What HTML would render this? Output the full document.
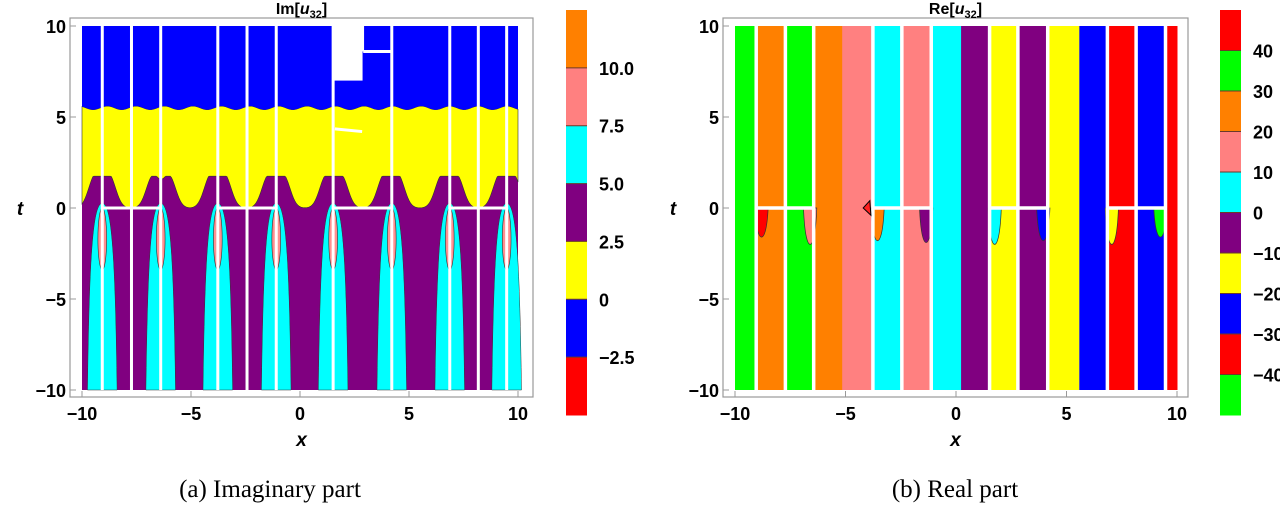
<!DOCTYPE html>
<html><head><meta charset="utf-8"><style>
body{margin:0;background:#fff;width:1280px;height:504px;overflow:hidden}
svg text{font-family:"Liberation Sans",sans-serif;font-weight:bold}
</style></head><body>
<svg id="figsvg" width="1280" height="504" viewBox="0 0 1280 504" xmlns="http://www.w3.org/2000/svg"></svg>
<script>
// ---- data ----
var imLines = [-9.07,-7.73,-6.39,-3.77,-2.43,-1.09,1.52,4.21,6.87,8.18,9.48];
var imArches = [-9.07,-6.39,-3.77,-1.09,1.52,4.21,6.87,9.48];
var imPeaks = [-9.4,-8.75,-6.75,-6.0,-4.1,-3.45,-1.45,-0.75,1.2,1.9,3.85,4.5,6.5,7.2,9.15,9.8];
var imBlueLevel = 5.5;
var imBarLabels = ["10.0","7.5","5.0","2.5","0","−2.5"];
var imBarColors = ["#ff8000","#ff8080","#00ffff","#800080","#ffff00","#0000ff","#ff0000"];
var reStripEdges = [-10,-9.04,-7.72,-6.44,-5.15,-3.76,-2.45,-1.12,0.23,1.52,2.8,4.15,5.58,6.85,8.15,9.48,10];
var reStripColors = ["#00ff00","#ff8000","#00ff00","#ff8000","#ff8080","#00ffff","#ff8080","#00ffff","#800080","#ffff00","#800080","#ffff00","#0000ff","#ff0000","#0000ff","#ff0000"];
var reLines = [-9.04,-7.72,-6.44,-3.76,-2.45,-1.12,1.52,2.8,4.15,6.85,8.15,9.48];
var reBars = [[-9.04,-6.44],[-3.76,-1.12],[1.52,4.15],[6.85,9.48]];
var reLobeX = [-8.8,-6.6,-3.55,-1.35,1.75,3.95,7.05,9.25];
var reLobeDepth = [-1.6,-2.0,-1.8,-1.9,-2.0,-1.8,-2.0,-1.6];
var reLobeColors = ["#ff0000","#ff8080","#ff8000","#800080","#00ffff","#0000ff","#ffff00","#00ff00"];
var reBarLabels = ["40","30","20","10","0","−10","−20","−30","−40"];
var reBarColors = ["#ff0000","#00ff00","#ff8000","#ff8080","#00ffff","#800080","#ffff00","#0000ff","#ff0000","#00ff00"];
var xTickVals = [-10,-5,0,5,10];
var tTickVals = [10,5,0,-5,-10];

(function(){
var SV=document.getElementById('figsvg');
var NS='http://www.w3.org/2000/svg';
function el(tag,attrs,parent,txt){var e=document.createElementNS(NS,tag);for(var k in attrs)e.setAttribute(k,attrs[k]);if(txt!==undefined)e.textContent=txt;(parent||SV).appendChild(e);return e;}
function fmt(v){return v<0?'−'+(-v):String(v);}

function panel(x0,x1,name){
  var g=el('g',{});
  
  
  return {X:function(v){return x0+(v+10)/20*(x1-x0);},T:function(v){return 208-v*18.2;},g:g};
}
function axes(p,fl,fr,title){
  var X=p.X,T=p.T,g=p.g;
  var fb=el('rect',{x:fl,y:18,width:fr-fl,height:379,fill:'none',stroke:'#999','stroke-width':1.2},g);
  
  xTickVals.forEach(function(v){
    el('line',{x1:X(v),x2:X(v),y1:397,y2:391,stroke:'#999'},g);
    var t=el('text',{x:X(v),y:420,'font-size':18,'text-anchor':'middle'},g,fmt(v));
    
  });
  tTickVals.forEach(function(v){
    el('line',{x1:fl,x2:fl+6,y1:T(v),y2:T(v),stroke:'#999'},g);
    var t=el('text',{x:fl-4,y:T(v)+7,'font-size':18,'text-anchor':'end'},g,fmt(v));
    
  });
  var xl=el('text',{x:(fl+fr)/2,y:446,'font-size':19,'font-style':'italic','text-anchor':'middle'},g,'x');
  
  var tl=el('text',{x:fl-50,y:215,'font-size':19,'font-style':'italic','text-anchor':'middle'},g,'t');
  
  var tt=el('text',{x:(fl+fr)/2,y:14,'font-size':16,'text-anchor':'middle'},g);
  
  el('tspan',{},tt,title+'[');el('tspan',{'font-style':'italic'},tt,'u');
  el('tspan',{'font-size':11,dy:4},tt,'32');el('tspan',{dy:-4},tt,']');
}
function colorbar(x,y0,y1,colors,labels,name){
  var g=el('g',{});
  
  
  var h=(y1-y0)/colors.length;
  colors.forEach(function(c,i){var r=el('rect',{x:x,y:y0+i*h,width:21,height:h+0.5,fill:c},g);
    });
  labels.forEach(function(l,i){
    el('line',{x1:x,x2:x+21,y1:y0+(i+1)*h,y2:y0+(i+1)*h,stroke:'#6a3a2a','stroke-width':1},g);
    var t=el('text',{x:x+33,y:y0+(i+1)*h+7,'font-size':18},g,l);
    
  });
}
function wavy(v){return imBlueLevel+0.1*Math.sin(v*4.8);}

// ===== Left: Im =====
var PL=panel(82,518,'imaginary-plot');
(function(){
  var X=PL.X,T=PL.T,g=PL.g,v;
  el('rect',{x:X(-10),y:T(10),width:X(10)-X(-10),height:T(-10)-T(10),fill:'#800080'},g);
  var up='M'+X(-10)+','+T(wavy(-10));
  for(v=-10;v<=10.001;v+=0.1){up+=' L'+X(v)+','+T(wavy(v));}
  var lo='';
  for(v=10;v>=-10.001;v-=0.05){var s=0;imPeaks.forEach(function(p){s+=1.75*Math.exp(-Math.pow((v-p)/0.42,2));});lo+=' L'+X(v)+','+T(Math.min(s,1.75));}
  var yb=el('path',{d:up+lo+' Z',fill:'#ffff00',stroke:'#333','stroke-width':0.6},g);
  
  var bl='M'+X(-10)+','+T(10)+' L'+X(10)+','+T(10);
  for(v=10;v>=-10.001;v-=0.1){bl+=' L'+X(v)+','+T(wavy(v));}
  var bb=el('path',{d:bl+' Z',fill:'#0000ff'},g);
  
  imArches.forEach(function(c){
    var a=el('path',{d:'M'+X(c-0.68)+','+T(-10)+' C'+X(c-0.6)+','+T(-3)+' '+X(c-0.45)+','+T(0.3)+' '+X(c)+','+T(0.25)+' C'+X(c+0.45)+','+T(0.3)+' '+X(c+0.6)+','+T(-3)+' '+X(c+0.68)+','+T(-10)+' Z',fill:'#00ffff',stroke:'#333','stroke-width':0.5},g);
    
    var e=el('ellipse',{cx:X(c),cy:T(-1.7),rx:X(0.2)-X(0),ry:T(-1.7)-T(0),fill:'#ff9090',stroke:'#333','stroke-width':0.6},g);
    
  });
  imLines.forEach(function(c){el('line',{x1:X(c),x2:X(c),y1:T(10),y2:T(-10),stroke:'#fff','stroke-width':3},g);});
  [[-9.07,-6.39],[-3.77,-1.09],[1.52,4.21],[6.87,9.48]].forEach(function(b){el('line',{x1:X(b[0]),x2:X(b[1]),y1:T(0),y2:T(0),stroke:'#fff','stroke-width':3},g);});
  el('rect',{x:X(1.52),y:T(10),width:X(2.87)-X(1.52),height:T(7)-T(10),fill:'#fff'},g);
  el('line',{x1:X(2.9),x2:X(4.21),y1:T(8.6),y2:T(8.6),stroke:'#fff','stroke-width':3},g);
  el('line',{x1:X(2.87),x2:X(2.87),y1:T(10),y2:T(8.6),stroke:'#fff','stroke-width':3},g);
  el('line',{x1:X(1.6),x2:X(2.85),y1:T(4.35),y2:T(4.2),stroke:'#fff','stroke-width':3},g);
  axes(PL,70,533,'Im');
})();
colorbar(566,10,415,imBarColors,imBarLabels,'imaginary-colorbar');

// ===== Right: Re =====
var PR=panel(735,1177,'real-plot');
(function(){
  var X=PR.X,T=PR.T,g=PR.g;
  reStripColors.forEach(function(c,i){
    var r=el('rect',{x:X(reStripEdges[i]),y:T(10),width:X(reStripEdges[i+1])-X(reStripEdges[i])+0.5,height:T(-10)-T(10),fill:c},g);
    
  });
  reLobeX.forEach(function(c,i){
    var d=reLobeDepth[i];
    var p=el('path',{d:'M'+X(c-0.3)+','+T(0)+' C'+X(c-0.25)+','+T(d*0.8)+' '+X(c-0.1)+','+T(d)+' '+X(c)+','+T(d)+' C'+X(c+0.1)+','+T(d)+' '+X(c+0.25)+','+T(d*0.8)+' '+X(c+0.3)+','+T(0)+' Z',fill:reLobeColors[i],stroke:'#333','stroke-width':0.7},g);
    
  });
  reLines.forEach(function(c){el('line',{x1:X(c),x2:X(c),y1:T(10),y2:T(-10),stroke:'#fff','stroke-width':3.5},g);});
  reBars.forEach(function(b){el('line',{x1:X(b[0]),x2:X(b[1]),y1:T(0),y2:T(0),stroke:'#fff','stroke-width':3.5},g);});
  el('path',{d:'M'+X(-4.2)+','+T(0)+' L'+X(-3.9)+','+T(0.4)+' L'+X(-3.85)+','+T(-0.4)+' Z',fill:'#ff2020',stroke:'#000','stroke-width':1},g);
  axes(PR,723,1188,'Re');
})();
colorbar(1220,10,415,reBarColors,reBarLabels,'real-colorbar');

var c1=el('text',{x:270,y:497,'font-size':25,'text-anchor':'middle'},SV,'(a)  Imaginary part');

c1.style.fontFamily='"Liberation Serif",serif';c1.style.fontWeight='normal';
var c2=el('text',{x:955,y:497,'font-size':25,'text-anchor':'middle'},SV,'(b)  Real part');

c2.style.fontFamily='"Liberation Serif",serif';c2.style.fontWeight='normal';
})();
</script>
</body></html>
